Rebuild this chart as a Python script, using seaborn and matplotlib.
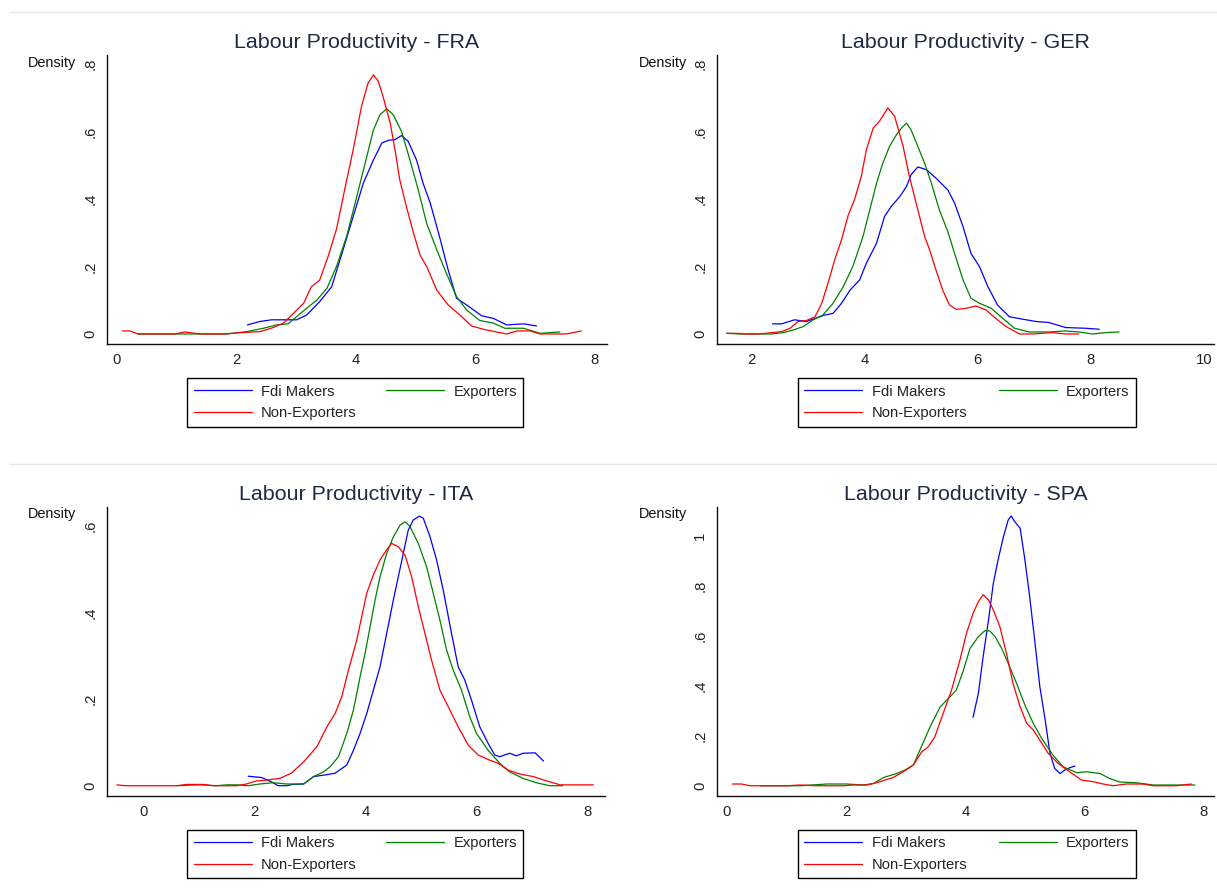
import numpy as np
import pandas as pd
import matplotlib
matplotlib.use("Agg")
import matplotlib.pyplot as plt
from matplotlib.lines import Line2D
import seaborn as sns

# ---------------- data ----------------
groups = ["Fdi Makers", "Exporters", "Non-Exporters"]
colors = {"Fdi Makers": "#0000ff", "Exporters": "#008000", "Non-Exporters": "#ff0000"}
titles = ["Labour Productivity - FRA", "Labour Productivity - GER",
          "Labour Productivity - ITA", "Labour Productivity - SPA"]

# FRA
fra_fdi_x = [2.19, 2.40, 2.59, 2.79, 3.01, 3.18, 3.40, 3.60, 3.79, 3.96, 4.13, 4.30, 4.44, 4.55, 4.66, 4.77, 4.88, 5.02, 5.13, 5.25, 5.39, 5.55, 5.69, 5.86, 6.11, 6.31, 6.53, 6.81, 7.03]
fra_fdi_y = [0.027, 0.037, 0.042, 0.042, 0.042, 0.056, 0.096, 0.14, 0.249, 0.348, 0.447, 0.516, 0.566, 0.574, 0.576, 0.588, 0.571, 0.516, 0.447, 0.388, 0.299, 0.19, 0.106, 0.086, 0.054, 0.046, 0.027, 0.03, 0.024]
fra_exp_x = [0.36, 1.00, 1.84, 2.18, 2.46, 2.68, 2.87, 3.01, 3.18, 3.35, 3.52, 3.68, 3.85, 4.02, 4.16, 4.30, 4.41, 4.52, 4.63, 4.77, 4.91, 5.05, 5.19, 5.36, 5.52, 5.69, 5.86, 6.08, 6.31, 6.50, 6.81, 7.09, 7.42]
fra_exp_y = [0.0, 0.0, 0.0, 0.007, 0.017, 0.027, 0.03, 0.051, 0.076, 0.10, 0.135, 0.20, 0.289, 0.407, 0.506, 0.605, 0.65, 0.667, 0.65, 0.60, 0.516, 0.427, 0.328, 0.249, 0.18, 0.111, 0.071, 0.04, 0.032, 0.017, 0.017, 0.002, 0.006]
fra_non_x = [0.095, 0.22, 0.36, 0.98, 1.14, 1.40, 1.79, 2.09, 2.40, 2.59, 2.79, 2.96, 3.13, 3.26, 3.40, 3.54, 3.68, 3.82, 3.96, 4.10, 4.21, 4.30, 4.38, 4.46, 4.58, 4.66, 4.74, 4.85, 4.97, 5.08, 5.19, 5.36, 5.55, 5.75, 5.94, 6.14, 6.33, 6.53, 6.70, 6.92, 7.09, 7.53, 7.78]
fra_non_y = [0.009, 0.009, 0.0, 0.0, 0.006, 0.0, 0.0, 0.004, 0.007, 0.017, 0.032, 0.061, 0.091, 0.14, 0.16, 0.23, 0.31, 0.43, 0.546, 0.675, 0.744, 0.768, 0.749, 0.704, 0.625, 0.546, 0.457, 0.378, 0.299, 0.234, 0.20, 0.13, 0.086, 0.056, 0.024, 0.014, 0.007, 0.0, 0.009, 0.009, 0.0, 0.0, 0.009]

# GER
ger_fdi_x = [2.37, 2.53, 2.76, 2.97, 3.15, 3.29, 3.44, 3.59, 3.74, 3.91, 4.03, 4.21, 4.35, 4.47, 4.62, 4.74, 4.82, 4.94, 5.09, 5.26, 5.47, 5.59, 5.74, 5.88, 6.03, 6.18, 6.35, 6.56, 6.79, 7.03, 7.26, 7.56, 7.91, 8.15]
ger_fdi_y = [0.03, 0.03, 0.042, 0.037, 0.048, 0.056, 0.061, 0.091, 0.13, 0.16, 0.21, 0.269, 0.348, 0.378, 0.407, 0.437, 0.472, 0.495, 0.487, 0.462, 0.427, 0.388, 0.318, 0.239, 0.20, 0.14, 0.086, 0.051, 0.044, 0.037, 0.034, 0.019, 0.017, 0.014]
ger_exp_x = [1.56, 1.79, 2.35, 2.56, 2.74, 2.91, 3.09, 3.26, 3.44, 3.62, 3.79, 3.97, 4.09, 4.21, 4.32, 4.44, 4.56, 4.65, 4.74, 4.82, 4.94, 5.06, 5.18, 5.32, 5.47, 5.59, 5.74, 5.88, 6.03, 6.24, 6.41, 6.65, 6.91, 7.26, 7.56, 7.79, 8.03, 8.26, 8.50]
ger_exp_y = [0.002, 0.0, 0.0, 0.004, 0.012, 0.022, 0.042, 0.056, 0.091, 0.14, 0.20, 0.289, 0.368, 0.447, 0.506, 0.556, 0.59, 0.61, 0.625, 0.605, 0.556, 0.506, 0.447, 0.368, 0.304, 0.239, 0.16, 0.106, 0.091, 0.076, 0.051, 0.017, 0.006, 0.006, 0.009, 0.006, 0.0, 0.004, 0.006]
ger_non_x = [1.56, 1.74, 1.85, 2.15, 2.35, 2.53, 2.68, 2.82, 2.97, 3.12, 3.24, 3.35, 3.47, 3.59, 3.71, 3.82, 3.94, 4.03, 4.15, 4.26, 4.41, 4.53, 4.68, 4.79, 4.94, 5.06, 5.15, 5.26, 5.38, 5.50, 5.62, 5.79, 5.97, 6.15, 6.32, 6.50, 6.74, 6.97, 7.32, 7.56, 7.79]
ger_non_y = [0.002, 0.002, 0.0, 0.0, 0.004, 0.007, 0.017, 0.037, 0.04, 0.051, 0.091, 0.15, 0.22, 0.279, 0.353, 0.398, 0.467, 0.546, 0.61, 0.63, 0.67, 0.645, 0.556, 0.467, 0.368, 0.289, 0.249, 0.19, 0.13, 0.086, 0.073, 0.076, 0.083, 0.071, 0.046, 0.022, 0.0, 0.0, 0.004, 0.0, 0.0]

# ITA
ita_fdi_x = [1.88, 2.12, 2.30, 2.42, 2.57, 2.69, 2.88, 3.06, 3.27, 3.45, 3.66, 3.78, 3.90, 4.02, 4.14, 4.26, 4.38, 4.50, 4.59, 4.68, 4.77, 4.86, 4.97, 5.04, 5.16, 5.28, 5.40, 5.55, 5.67, 5.79, 5.91, 6.06, 6.21, 6.33, 6.42, 6.60, 6.72, 6.84, 7.06, 7.21]
ita_fdi_y = [0.022, 0.019, 0.009, 0.0, 0.0, 0.003, 0.004, 0.021, 0.025, 0.029, 0.048, 0.082, 0.121, 0.167, 0.221, 0.275, 0.352, 0.429, 0.483, 0.537, 0.591, 0.614, 0.623, 0.618, 0.576, 0.522, 0.452, 0.352, 0.275, 0.244, 0.198, 0.136, 0.098, 0.071, 0.067, 0.075, 0.069, 0.075, 0.076, 0.057]
ita_exp_x = [0.59, 1.01, 1.31, 1.49, 1.67, 1.88, 2.09, 2.33, 2.57, 2.88, 3.06, 3.24, 3.36, 3.51, 3.66, 3.78, 3.90, 3.99, 4.08, 4.17, 4.26, 4.38, 4.50, 4.62, 4.71, 4.80, 4.95, 5.10, 5.22, 5.34, 5.46, 5.58, 5.73, 5.88, 6.00, 6.21, 6.42, 6.60, 6.84, 7.08, 7.32, 7.56]
ita_exp_y = [0.0, 0.002, 0.0, 0.002, 0.002, 0.0, 0.004, 0.007, 0.004, 0.004, 0.021, 0.032, 0.044, 0.067, 0.121, 0.175, 0.252, 0.306, 0.367, 0.429, 0.483, 0.537, 0.575, 0.602, 0.61, 0.599, 0.56, 0.506, 0.445, 0.383, 0.314, 0.267, 0.221, 0.159, 0.121, 0.082, 0.052, 0.032, 0.017, 0.007, 0.0, 0.0]
ita_non_x = [-0.49, -0.34, 0.59, 0.77, 1.07, 1.25, 1.67, 1.85, 2.03, 2.21, 2.45, 2.66, 2.88, 3.12, 3.30, 3.45, 3.57, 3.69, 3.84, 3.93, 4.02, 4.14, 4.26, 4.38, 4.47, 4.59, 4.71, 4.83, 4.95, 5.07, 5.19, 5.34, 5.52, 5.67, 5.85, 6.03, 6.24, 6.39, 6.57, 6.78, 7.03, 7.27, 7.51, 7.81, 8.11]
ita_non_y = [0.002, 0.0, 0.0, 0.003, 0.003, 0.0, 0.0, 0.004, 0.011, 0.013, 0.017, 0.029, 0.055, 0.09, 0.136, 0.167, 0.206, 0.267, 0.337, 0.391, 0.445, 0.487, 0.522, 0.545, 0.56, 0.552, 0.533, 0.483, 0.414, 0.352, 0.29, 0.221, 0.175, 0.136, 0.094, 0.071, 0.059, 0.052, 0.036, 0.027, 0.021, 0.011, 0.002, 0.002, 0.002]

# SPA
spa_fdi_x = [4.13, 4.22, 4.30, 4.39, 4.47, 4.55, 4.64, 4.72, 4.77, 4.83, 4.92, 5.00, 5.08, 5.17, 5.25, 5.34, 5.42, 5.50, 5.59, 5.67, 5.75, 5.84]
spa_fdi_y = [0.274, 0.37, 0.517, 0.664, 0.81, 0.904, 0.997, 1.064, 1.08, 1.057, 1.031, 0.904, 0.757, 0.57, 0.397, 0.263, 0.13, 0.069, 0.049, 0.063, 0.072, 0.079]
spa_exp_x = [0.56, 1.23, 1.68, 2.01, 2.29, 2.46, 2.63, 2.85, 2.99, 3.13, 3.24, 3.41, 3.58, 3.72, 3.85, 3.97, 4.08, 4.22, 4.33, 4.41, 4.50, 4.61, 4.72, 4.86, 5.00, 5.14, 5.28, 5.47, 5.64, 5.87, 6.03, 6.26, 6.42, 6.59, 6.87, 7.15, 7.49, 7.85]
spa_exp_y = [0.0, 0.0, 0.007, 0.007, 0.003, 0.009, 0.033, 0.049, 0.063, 0.083, 0.143, 0.236, 0.316, 0.35, 0.383, 0.463, 0.55, 0.597, 0.621, 0.62, 0.597, 0.55, 0.49, 0.41, 0.323, 0.25, 0.19, 0.123, 0.076, 0.052, 0.056, 0.049, 0.029, 0.015, 0.012, 0.003, 0.003, 0.003]
spa_non_x = [0.095, 0.25, 0.39, 1.01, 1.23, 1.51, 1.96, 2.12, 2.35, 2.51, 2.79, 2.96, 3.13, 3.27, 3.38, 3.49, 3.63, 3.77, 3.91, 4.02, 4.13, 4.22, 4.30, 4.39, 4.47, 4.58, 4.69, 4.80, 4.92, 5.03, 5.14, 5.25, 5.39, 5.56, 5.75, 5.95, 6.15, 6.31, 6.48, 6.70, 6.98, 7.15, 7.54, 7.79]
spa_non_y = [0.007, 0.007, 0.0, 0.0, 0.003, 0.0, 0.0, 0.003, 0.003, 0.012, 0.033, 0.056, 0.083, 0.136, 0.156, 0.196, 0.29, 0.383, 0.503, 0.61, 0.69, 0.737, 0.765, 0.744, 0.704, 0.637, 0.53, 0.41, 0.316, 0.25, 0.223, 0.183, 0.13, 0.089, 0.056, 0.023, 0.016, 0.007, 0.0, 0.007, 0.007, 0.0, 0.0, 0.007]

x_ticks_a = [0, 2, 4, 6, 8]
x_ticks_b = [2, 4, 6, 8, 10]
y_ticks_a = [0, 0.2, 0.4, 0.6, 0.8]
y_labels_a = ["0", ".2", ".4", ".6", ".8"]
y_ticks_c = [0, 0.2, 0.4, 0.6]
y_labels_c = ["0", ".2", ".4", ".6"]
y_ticks_d = [0, 0.2, 0.4, 0.6, 0.8, 1.0]
y_labels_d = ["0", ".2", ".4", ".6", ".8", "1"]

def long_df(fx, fy, ex, ey, nx, ny):
    frames = []
    for g, xs, ys in [("Fdi Makers", fx, fy), ("Exporters", ex, ey), ("Non-Exporters", nx, ny)]:
        frames.append(pd.DataFrame({"x": xs, "y": ys, "group": g}))
    return pd.concat(frames, ignore_index=True)

# ---------------- figure ----------------
sns.set_theme(style="white")
plt.rcParams["font.family"] = ["Liberation Sans", "DejaVu Sans"]
plt.rcParams["axes.edgecolor"] = "#000000"

W, H = 1217, 892
fig = plt.figure(figsize=(W / 100, H / 100), dpi=100)
fig.patch.set_facecolor("white")

def rect(l, r, t, b):
    return [l / W, 1 - b / H, (r - l) / W, (b - t) / H]

panels = [
    dict(rect=(107, 607, 55, 343.5), xlim=(-0.162, 8.21), ylim=(-0.0282, 0.8267),
         xt=x_ticks_a, yt=y_ticks_a, yl=y_labels_a,
         df=long_df(fra_fdi_x, fra_fdi_y, fra_exp_x, fra_exp_y, fra_non_x, fra_non_y),
         dens=(28.3, 66.5), leg=(187.3, 523.3, 378.3)),
    dict(rect=(717, 1214, 55, 343.5), xlim=(1.387, 10.18), ylim=(-0.0282, 0.8267),
         xt=x_ticks_b, yt=y_ticks_a, yl=y_labels_a,
         df=long_df(ger_fdi_x, ger_fdi_y, ger_exp_x, ger_exp_y, ger_non_x, ger_non_y),
         dens=(638.5, 66.5), leg=(798, 1136, 378.3)),
    dict(rect=(107, 605, 507, 795.5), xlim=(-0.668, 8.32), ylim=(-0.0226, 0.644),
         xt=x_ticks_a, yt=y_ticks_c, yl=y_labels_c,
         df=long_df(ita_fdi_x, ita_fdi_y, ita_exp_x, ita_exp_y, ita_non_x, ita_non_y),
         dens=(28.3, 518), leg=(187.3, 523.3, 830)),
    dict(rect=(717, 1214, 507, 795.5), xlim=(-0.162, 8.17), ylim=(-0.039, 1.116),
         xt=x_ticks_a, yt=y_ticks_d, yl=y_labels_d,
         df=long_df(spa_fdi_x, spa_fdi_y, spa_exp_x, spa_exp_y, spa_non_x, spa_non_y),
         dens=(638.5, 518), leg=(798, 1136, 830)),
]

for p, title in zip(panels, titles):
    ax = fig.add_axes(rect(*p["rect"]))
    ax.set_facecolor("white")
    sns.lineplot(data=p["df"], x="x", y="y", hue="group", hue_order=groups,
                 palette=colors, sort=False, estimator=None, linewidth=0.9,
                 legend=False, ax=ax)
    ax.set_xlim(*p["xlim"])
    ax.set_ylim(*p["ylim"])
    ax.set_xticks(p["xt"])
    ax.set_xticklabels([str(v) for v in p["xt"]])
    ax.set_yticks(p["yt"])
    ax.set_yticklabels(p["yl"], rotation=90, va="center")
    ax.set_xlabel("")
    ax.set_ylabel("")
    for s in ["top", "right"]:
        ax.spines[s].set_visible(False)
    for s in ["left", "bottom"]:
        ax.spines[s].set_linewidth(1.0)
        ax.spines[s].set_color("#111111")
    ax.tick_params(axis="both", direction="out", length=3.6, width=0.8,
                   color="#333333", labelsize=10.7, labelcolor="#222222")
    ax.tick_params(axis="x", pad=3)
    ax.tick_params(axis="y", pad=3.5)
    ax.grid(False)
    ax.set_title(title, fontsize=15.4, color="#1e2a44", pad=5.3)

    fig.text(p["dens"][0] / W, 1 - p["dens"][1] / H, "Density", fontsize=10.4,
             color="#111111", ha="left", va="baseline")

    l, r, top = p["leg"]
    hgt = 48.4
    handles = [Line2D([], [], color=colors["Fdi Makers"], lw=0.9),
               Line2D([], [], color=colors["Non-Exporters"], lw=0.9),
               Line2D([], [], color=colors["Exporters"], lw=0.9)]
    labels = ["Fdi Makers", "Non-Exporters", "Exporters"]
    leg = fig.legend(handles, labels, ncol=2, mode="expand", loc="upper left",
                     bbox_to_anchor=(l / W, 1 - (top + hgt) / H, (r - l) / W, hgt / H),
                     bbox_transform=fig.transFigure, borderaxespad=0, fontsize=10.6,
                     handlelength=3.95, handletextpad=0.63, labelspacing=0.52,
                     borderpad=0.43, frameon=True, fancybox=False, framealpha=1,
                     edgecolor="#000000")
    leg.get_frame().set_linewidth(1.0)
    for t in leg.get_texts():
        t.set_color("#222222")

# faint separator lines of the graph regions
for yy in [12.3, 464]:
    fig.add_artist(Line2D([9 / W, 1.0], [1 - yy / H, 1 - yy / H], color="#e3eaec",
                          lw=1.0, transform=fig.transFigure))

fig.savefig("out.png", dpi=100, facecolor="white")
